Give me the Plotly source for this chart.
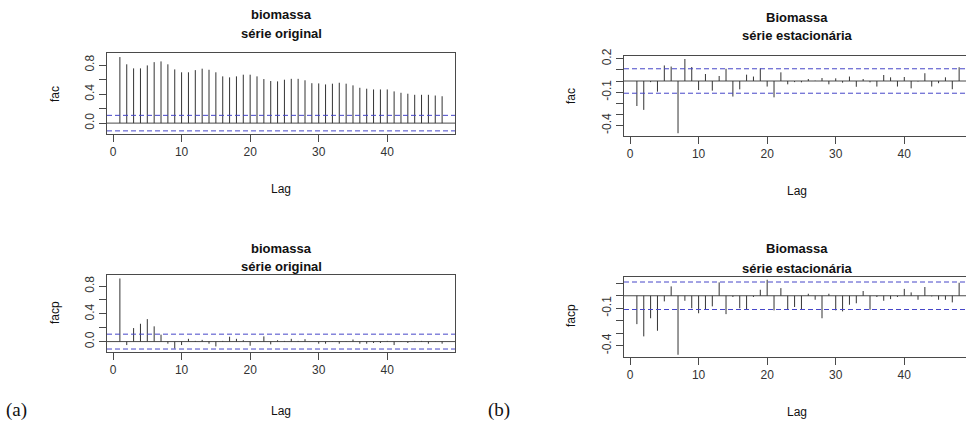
import plotly.graph_objects as go

W, H = 966, 436

lags = list(range(1, 49))

# fac, série original
fac_orig = [0.91, 0.81, 0.754, 0.754, 0.795, 0.84, 0.85, 0.81, 0.74, 0.70,
            0.70, 0.73, 0.75, 0.735, 0.70, 0.644, 0.63, 0.644, 0.667, 0.667,
            0.644, 0.607, 0.58, 0.575, 0.598, 0.61, 0.61, 0.59, 0.55, 0.547,
            0.533, 0.543, 0.556, 0.543, 0.52, 0.487, 0.474, 0.464, 0.464, 0.464,
            0.437, 0.418, 0.405, 0.39, 0.39, 0.39, 0.38, 0.37]

# facp, série original
facp_orig = [0.91, -0.05, 0.195, 0.257, 0.324, 0.22, 0.10, -0.03, -0.10, -0.05,
             0.04, 0.01, 0.025, -0.03, -0.07, 0.01, 0.07, 0.04, 0.02, -0.06,
             0.005, 0.075, -0.04, 0.02, 0.01, 0.04, 0.01, 0.035, 0.0, -0.03,
             -0.03, 0.005, -0.03, 0.005, 0.03, -0.03, -0.03, -0.02, -0.02, 0.01,
             -0.05, 0.005, -0.02, 0.01, 0.01, -0.03, 0.005, -0.03]

# fac, série estacionária
fac_est = [-0.225, -0.26, -0.01, -0.096, 0.14, 0.13, -0.47, 0.198, 0.126, -0.081,
           0.063, -0.087, 0.045, 0.11, -0.14, -0.075, 0.057, 0.04, 0.114, -0.05,
           -0.147, 0.078, -0.03, -0.01, -0.012, 0.018, 0.003, 0.027, -0.03, 0.024,
           -0.015, 0.04, -0.052, 0.018, -0.012, -0.05, 0.054, 0.033, -0.05, 0.036,
           -0.066, -0.005, 0.07, -0.05, -0.02, 0.033, -0.074, 0.124]

# facp, série estacionária
facp_est = [-0.227, -0.325, -0.18, -0.28, -0.045, 0.075, -0.472, -0.04, -0.10, -0.14,
            -0.107, -0.085, 0.107, -0.147, -0.01, -0.10, -0.112, -0.01, 0.048, 0.128,
            -0.117, 0.061, -0.107, -0.09, -0.112, 0.016, -0.032, -0.18, 0.016, -0.117,
            -0.125, -0.072, -0.06, 0.038, -0.112, -0.01, -0.04, -0.027, -0.01, 0.055,
            0.027, -0.032, 0.07, -0.005, -0.032, -0.032, -0.053, 0.104]

ci_orig = 0.107
ci_est = 0.11

x_ticks = [0, 10, 20, 30, 40]
left_yticks = [0, 0.2, 0.4, 0.6, 0.8]
left_ytext = ["0.0", "", "0.4", "", "0.8"]
right_yticks = [-0.4, -0.3, -0.2, -0.1, 0, 0.1, 0.2]
right_ytext = ["-0.4", "", "", "-0.1", "", "", "0.2"]

ink = "#333333"
frame = "#4a4a4a"
blue = "#4646c8"
font = "Liberation Sans, Arial, sans-serif"


def px(x):
    return x / W


def py(y):
    return 1 - y / H


def stems(xs, vals):
    sx, sy = [], []
    for x, v in zip(xs, vals):
        sx += [x, x, None]
        sy += [0, v, None]
    return sx, sy


# panel: (values, ci, axis no, box left,right,top,bottom px, x range, y range, yticks, ytext, mirror y)
panels = [
    (fac_orig, ci_orig, 1, 107, 455, 53, 134, [-0.88, 49.88], [-0.15, 0.966], left_yticks, left_ytext, True),
    (facp_orig, ci_orig, 2, 107, 455, 275, 352, [-0.88, 49.88], [-0.15, 0.96], left_yticks, left_ytext, True),
    (fac_est, ci_est, 3, 624, 966, 56, 136, [-0.88, 49.0], [-0.495, 0.225], right_yticks, right_ytext, False),
    (facp_est, ci_est, 4, 624, 966, 277, 357, [-0.88, 49.0], [-0.49, 0.15], right_yticks[:-1], right_ytext[:-1], False),
]

fig = go.Figure()
layout = {}
shapes = []

for vals, ci, k, x0, x1, y0, y1, xr, yr, ytv, ytt, ymir in panels:
    xa = "x" if k == 1 else "x%d" % k
    ya = "y" if k == 1 else "y%d" % k
    xd = xa + " domain"
    # zero line under the stems
    shapes.append(dict(type="line", xref=xd, x0=0, x1=1, yref=ya, y0=0, y1=0,
                       layer="below", line=dict(color=frame, width=1)))
    sx, sy = stems(lags, vals)
    fig.add_trace(go.Scatter(x=sx, y=sy, mode="lines", xaxis=xa, yaxis=ya,
                             line=dict(color=ink, width=1), showlegend=False,
                             hoverinfo="skip"))
    # confidence limits drawn after the stems, like R does
    for c in (ci, -ci):
        fig.add_trace(go.Scatter(x=[xr[0], xr[1] + 1], y=[c, c], mode="lines",
                                 xaxis=xa, yaxis=ya, showlegend=False, hoverinfo="skip",
                                 line=dict(color=blue, width=1, dash="5px,3px")))
    layout["xaxis" if k == 1 else "xaxis%d" % k] = dict(
        domain=[px(x0), px(x1)], range=xr, anchor=ya, automargin=False,
        tickvals=x_ticks, ticks="outside", ticklen=7, tickcolor=frame,
        showline=True, mirror=True, linecolor=frame, linewidth=1,
        showgrid=False, zeroline=False,
        tickfont=dict(family=font, size=12, color=ink),
    )
    layout["yaxis" if k == 1 else "yaxis%d" % k] = dict(
        domain=[py(y1), py(y0)], range=yr, anchor=xa, automargin=False,
        tickvals=ytv, ticktext=ytt, ticks="outside", ticklen=7, tickcolor=frame,
        tickangle=-90,
        showline=True, mirror=ymir, linecolor=frame, linewidth=1,
        showgrid=False, zeroline=False,
        tickfont=dict(family=font, size=12, color=ink),
    )

annotations = []


def text(x, y, s, size=12, bold=False, angle=0, fam=font):
    if bold:
        s = "<b>" + s + "</b>"
    annotations.append(dict(x=px(x), y=py(y), xref="paper", yref="paper",
                            text=s, showarrow=False, textangle=angle,
                            xanchor="center", yanchor="middle",
                            font=dict(family=fam, size=size, color="#111111")))


titles = [
    (281, 15, 33, "biomassa", "série original"),
    (281, 248, 266, "biomassa", "série original"),
    (797, 17, 35, "Biomassa", "série estacionária"),
    (797, 249, 268, "Biomassa", "série estacionária"),
]
for cx, ya_, yb_, t1, t2 in titles:
    text(cx, ya_, t1, size=13, bold=True)
    text(cx, yb_, t2, size=13, bold=True)

text(281, 189, "Lag")
text(281, 411, "Lag")
text(797, 191, "Lag")
text(797, 412, "Lag")
text(55, 94, "fac", angle=-90)
text(55, 313, "facp", angle=-90)
text(571, 96, "fac", angle=-90)
text(571, 316, "facp", angle=-90)

text(16, 410, "(a)", size=19, fam="Liberation Serif, serif")
text(499, 410, "(b)", size=19, fam="Liberation Serif, serif")

fig.update_layout(
    width=W, height=H,
    margin=dict(l=0, r=0, t=0, b=0, autoexpand=False),
    paper_bgcolor="white", plot_bgcolor="white",
    shapes=shapes, annotations=annotations,
    **layout,
)

# the page body has a default 8px margin; drop it so the figure fills the window
fig.write_html("out.html", config={"displayModeBar": False},
               post_script="document.body.style.margin='0';")
